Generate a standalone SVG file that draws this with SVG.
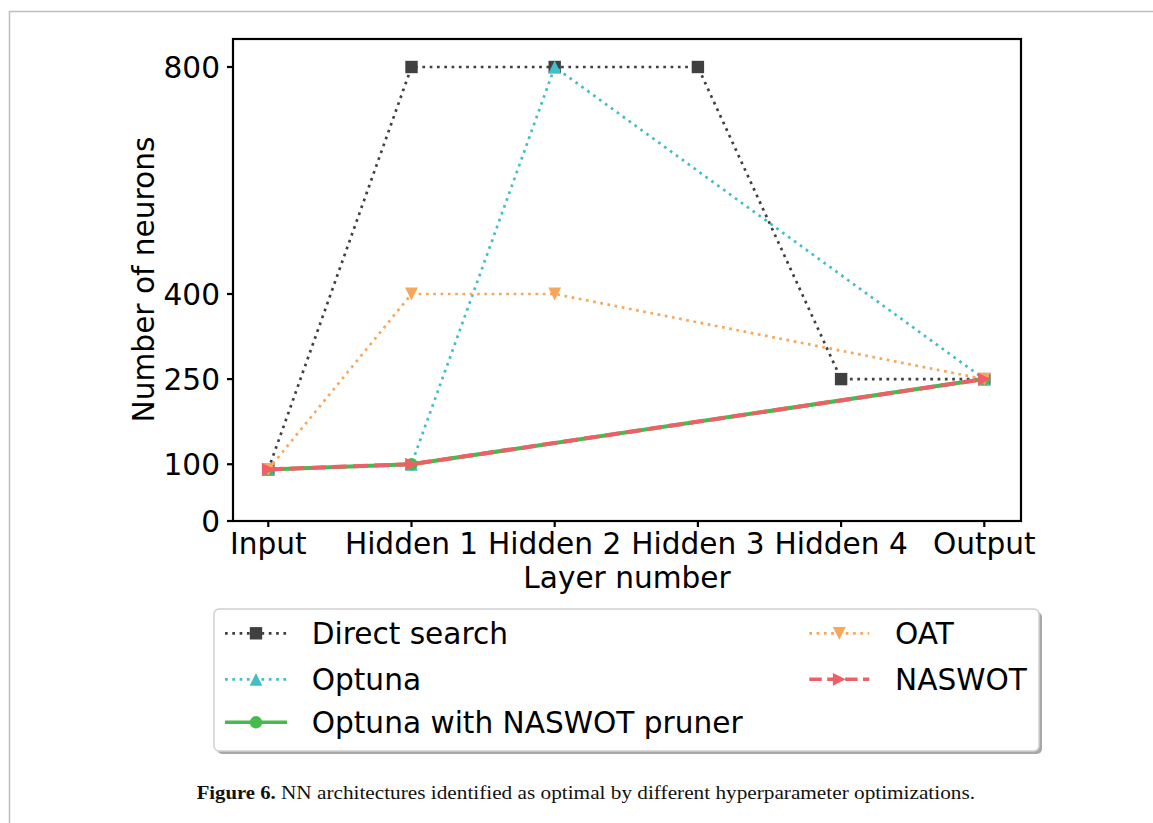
<svg xmlns="http://www.w3.org/2000/svg" xmlns:xlink="http://www.w3.org/1999/xlink" width="1153" height="823" viewBox="0 0 1153 823">
<style>
.t{font-family:"DejaVu Sans","Liberation Sans",sans-serif;font-size:29.6px;fill:#000}
.ax{stroke:#000;stroke-width:2.2;fill:none}
.dot{fill:none;stroke-width:2.7;stroke-dasharray:2.7 4.6}
.gray{stroke:#404040}
.cyan{stroke:#41bec7}
.orange{stroke:#f8a75a}
.green{fill:none;stroke:#48b94c;stroke-width:4}
.red{fill:none;stroke:#ef5f67;stroke-width:4;stroke-dasharray:14.8 6.4}
.lg{stroke-width:3.4}
.lgr{stroke-width:3.4;stroke-dasharray:12.5 5.4}
</style>
<defs>
<rect id="msq" x="-6.2" y="-6.2" width="12.4" height="12.4" fill="#404040"/>
<path id="mtu" d="M0,-6.4 L-6.4,6.4 L6.4,6.4 Z" fill="#41bec7"/>
<path id="mtd" d="M0,6.4 L-6.4,-6.4 L6.4,-6.4 Z" fill="#f8a75a"/>
<path id="mtr" d="M6.4,0 L-6.4,-6.4 L-6.4,6.4 Z" fill="#ef5f67"/>
<circle id="mci" r="6.2" fill="#48b94c"/>
</defs>
<rect x="0" y="0" width="1153" height="823" fill="#fff"/>
<rect x="9.5" y="11.5" width="1160" height="830" fill="none" stroke="#bdbdbd" stroke-width="1.5"/>

<g id="axes">
<rect x="233" y="39" width="788" height="482" class="ax"/>
<g class="ax">
<line x1="227" y1="67" x2="233" y2="67"/>
<line x1="227" y1="294" x2="233" y2="294"/>
<line x1="227" y1="379.1" x2="233" y2="379.1"/>
<line x1="227" y1="464.25" x2="233" y2="464.25"/>
<line x1="227" y1="521" x2="233" y2="521"/>
<line x1="268.3" y1="521" x2="268.3" y2="527"/>
<line x1="411.5" y1="521" x2="411.5" y2="527"/>
<line x1="554.7" y1="521" x2="554.7" y2="527"/>
<line x1="697.9" y1="521" x2="697.9" y2="527"/>
<line x1="841.1" y1="521" x2="841.1" y2="527"/>
<line x1="984.3" y1="521" x2="984.3" y2="527"/>
</g>
<g class="t" text-anchor="end">
<text x="220" y="77.8">800</text>
<text x="220" y="304.8">400</text>
<text x="220" y="389.9">250</text>
<text x="220" y="475">100</text>
<text x="220" y="531.8">0</text>
</g>
<g class="t" text-anchor="middle">
<text x="268.3" y="554.3">Input</text>
<text x="411.5" y="554.3">Hidden 1</text>
<text x="554.7" y="554.3">Hidden 2</text>
<text x="697.9" y="554.3">Hidden 3</text>
<text x="841.1" y="554.3">Hidden 4</text>
<text x="984.3" y="554.3">Output</text>
<text x="627" y="587.5">Layer number</text>
<text transform="translate(153.5,279.5) rotate(-90)">Number of neurons</text>
</g>
</g>

<g id="series">
<g id="direct-search">
<polyline class="dot gray" points="268.3,469.4 411.5,67 554.7,67 697.9,67 841.1,379.1 984.3,379.1"/>
<use xlink:href="#msq" x="268.3" y="469.4"/>
<use xlink:href="#msq" x="411.5" y="67"/>
<use xlink:href="#msq" x="554.7" y="67"/>
<use xlink:href="#msq" x="697.9" y="67"/>
<use xlink:href="#msq" x="841.1" y="379.1"/>
<use xlink:href="#msq" x="984.3" y="379.1"/>
</g>
<g id="optuna">
<polyline class="dot cyan" points="268.3,469.4 411.5,464.25 554.7,67 984.3,379.1"/>
<use xlink:href="#mtu" x="268.3" y="469.4"/>
<use xlink:href="#mtu" x="411.5" y="464.25"/>
<use xlink:href="#mtu" x="554.7" y="67"/>
<use xlink:href="#mtu" x="984.3" y="379.1"/>
</g>
<g id="optuna-naswot-pruner">
<polyline class="green" points="268.3,469.4 411.5,464.25 984.3,379.1"/>
<use xlink:href="#mci" x="268.3" y="469.4"/>
<use xlink:href="#mci" x="411.5" y="464.25"/>
<use xlink:href="#mci" x="984.3" y="379.1"/>
</g>
<g id="oat">
<polyline class="dot orange" points="268.3,469.4 411.5,294 554.7,294 984.3,379.1"/>
<use xlink:href="#mtd" x="268.3" y="469.4"/>
<use xlink:href="#mtd" x="411.5" y="294"/>
<use xlink:href="#mtd" x="554.7" y="294"/>
<use xlink:href="#mtd" x="984.3" y="379.1"/>
</g>
<g id="naswot">
<polyline class="red" points="268.3,469.4 411.5,464.25 984.3,379.1"/>
<use xlink:href="#mtr" x="268.3" y="469.4"/>
<use xlink:href="#mtr" x="411.5" y="464.25"/>
<use xlink:href="#mtr" x="984.3" y="379.1"/>
</g>
</g>

<g id="legend">
<rect x="217" y="612" width="825" height="142" rx="5" fill="#a8a8a8"/>
<rect x="214" y="609" width="825" height="142" rx="5" fill="#fff" stroke="#d0d0d0" stroke-width="1.5"/>
<g id="leg-direct">
<line class="dot gray" x1="225" y1="633.3" x2="287" y2="633.3"/>
<use xlink:href="#msq" x="256" y="633.3"/>
<text class="t" x="311.7" y="644.3">Direct search</text>
</g>
<g id="leg-optuna">
<line class="dot cyan" x1="225" y1="679.3" x2="287" y2="679.3"/>
<use xlink:href="#mtu" x="256" y="679.3"/>
<text class="t" x="311.7" y="690.3">Optuna</text>
</g>
<g id="leg-pruner">
<line class="green lg" x1="225" y1="722.3" x2="287" y2="722.3"/>
<use xlink:href="#mci" x="256" y="722.3"/>
<text class="t" x="311.7" y="733.3">Optuna with NASWOT pruner</text>
</g>
<g id="leg-oat">
<line class="dot orange" x1="809.3" y1="633.3" x2="869.3" y2="633.3"/>
<use xlink:href="#mtd" x="839.3" y="633.3"/>
<text class="t" x="895" y="644.3">OAT</text>
</g>
<g id="leg-naswot">
<line class="red lgr" x1="809.3" y1="679.3" x2="869.3" y2="679.3"/>
<use xlink:href="#mtr" x="839.3" y="679.3"/>
<text class="t" x="895" y="690.3">NASWOT</text>
</g>
</g>

<g id="caption" font-family="'Liberation Serif',serif" font-size="19" fill="#111">
<text x="196.7" y="798.5" font-weight="bold" textLength="79" lengthAdjust="spacingAndGlyphs">Figure 6.</text>
<text x="281" y="798.5" textLength="694" lengthAdjust="spacingAndGlyphs">NN architectures identified as optimal by different hyperparameter optimizations.</text>
</g>
</svg>
